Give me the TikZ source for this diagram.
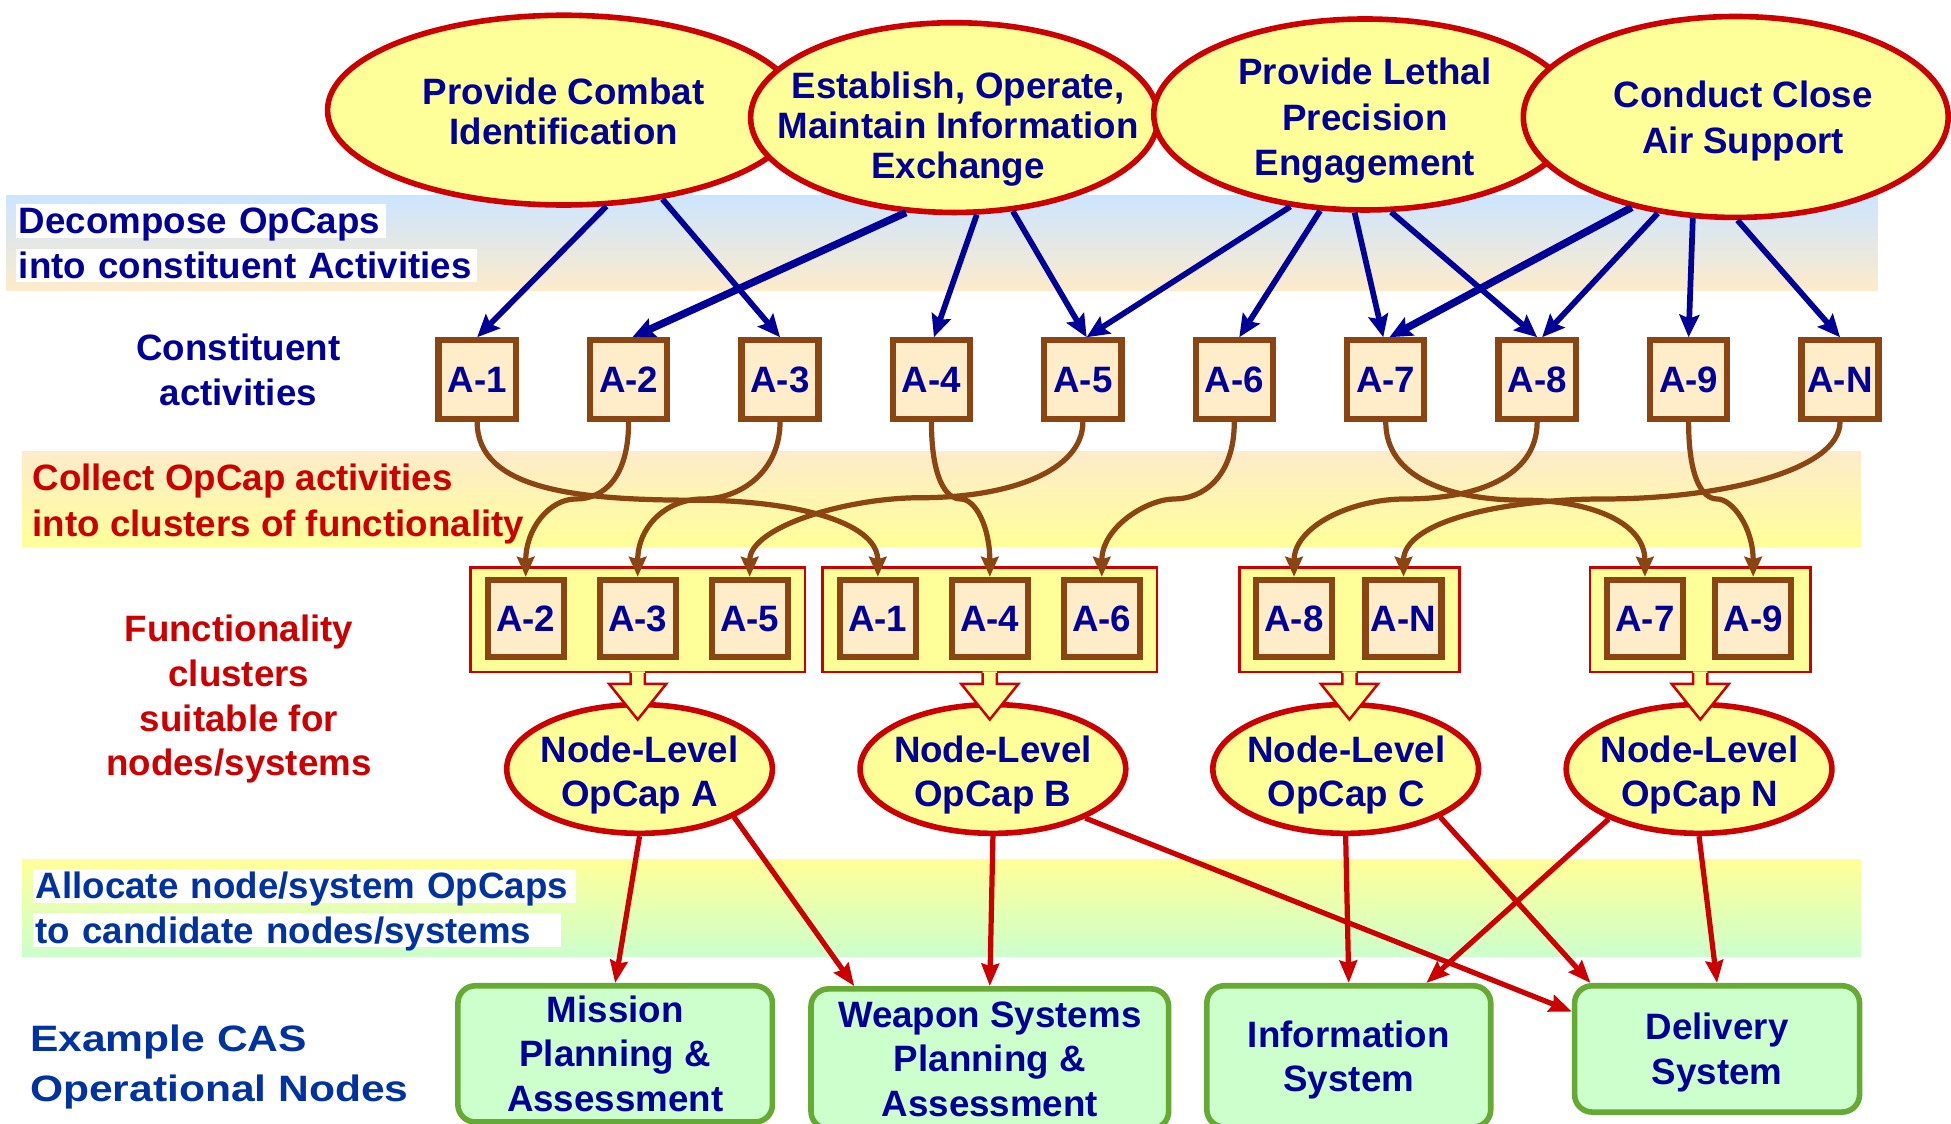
\documentclass[tikz,border=0pt]{standalone}
\usepackage{fontspec}
\setmainfont{Liberation Sans}
\newfontfamily\widesans{Liberation Sans}[FakeStretch=1.16]
\usetikzlibrary{arrows.meta,shapes.geometric}

\definecolor{txnavy}{HTML}{000099}
\definecolor{midblue}{HTML}{0033A0}
\definecolor{dred}{HTML}{CC0000}
\definecolor{ellfill}{HTML}{FFFF99}
\definecolor{actfill}{HTML}{FFEDCA}
\definecolor{actbrown}{HTML}{8B4513}
\definecolor{grnfill}{HTML}{CCFFCC}
\definecolor{grnline}{HTML}{66AA33}
\definecolor{bandblue}{HTML}{CCE5FF}
\definecolor{bandpeach}{HTML}{FDEBCB}
\definecolor{bandyellow}{HTML}{FFFF99}
\definecolor{bandgreen}{HTML}{CCFFCC}

% struts that give every text line block the same top and bottom
\newcommand\tstrut{\rule{0pt}{28pt}}
\newcommand\bstrut{\rule[-7pt]{0pt}{7pt}}

\tikzset{
  fnt/.style={font=\fontsize{29.5}{#1}\selectfont\bfseries},
  fnt/.default=36,
  txt/.style={fnt, align=center, inner sep=0pt, text=txnavy,
    execute at end node={\bstrut}},
  wlbl/.style={fnt, fill=white, inner xsep=2.5pt, inner ysep=0pt,
    text height=24pt, text depth=3pt, align=left, anchor=west},
  opcap/.style={ellipse, draw=dred, line width=4.5pt, fill=ellfill, inner sep=0pt},
  act/.style={rectangle, draw=actbrown, line width=5pt, fill=actfill,
    minimum width=62pt, minimum height=63pt, txt},
  cluster/.style={rectangle, draw=dred, line width=2pt, fill=ellfill,
    minimum height=84pt, inner sep=0pt},
  gbox/.style={rectangle, rounded corners=14pt, draw=grnline, line width=4.5pt,
    fill=grnfill, txt},
  bluearr/.style={draw=txnavy, line width=4.6pt,
    -{Stealth[length=18pt,width=16pt,inset=3pt]}},
  brownarr/.style={draw=actbrown, line width=4.2pt,
    -{Stealth[length=16pt,width=14pt,inset=2pt]}},
  redarr/.style={draw=dred, line width=4.2pt,
    -{Stealth[length=18pt,width=14pt,inset=2pt]}},
}

\begin{document}
\begin{tikzpicture}[x=1pt,y=-1pt]
\useasboundingbox (0,0) rectangle (1568,903);

% shaded process bands
\shade[top color=bandblue, bottom color=bandpeach] (5,157) rectangle (1509,233.5);
\shade[top color=bandpeach, bottom color=bandyellow] (17.5,362.5) rectangle (1495.5,439);
\shade[top color=bandyellow, bottom color=bandgreen] (17.5,691) rectangle (1495.5,768.5);

% left-hand step labels
\node[wlbl, text=txnavy, text width=292.5pt] (dec1) at (12.5,177.5) {Decompose OpCaps};
\node[wlbl, text=txnavy, text width=365.5pt] (dec2) at (12.5,213.4) {into constituent Activities};
\node[txt] (cons) at (191.5,297) {\tstrut Constituent\\activities};
\node[txt, fnt=37, align=left, anchor=west, text=dred] (coll) at (26,402.5)
  {\tstrut Collect OpCap activities\\into clusters of functionality};
\node[txt, text=dred] (func) at (192,559)
  {\tstrut Functionality\\clusters\\suitable for\\nodes/systems};
\node[wlbl, text=midblue, text width=432pt] (alo1) at (26,712) {Allocate node/system OpCaps};
\node[wlbl, text=midblue, text width=420pt] (alo2) at (26,747.5) {to candidate nodes/systems};
\node[txt, font=\widesans\fontsize{29.5}{40.5}\selectfont\bfseries, align=left,
  anchor=west, text=midblue] (cas) at (24,854.75) {\tstrut Example CAS\\Operational Nodes};

% operational capabilities
\node[opcap, minimum width=379.5pt, minimum height=152.5pt] (E1) at (453,88.5) {};
\node[txt, fnt=32.4] (E1t) at (453,89.5) {\tstrut Provide Combat\\Identification};
\node[opcap, minimum width=327.5pt, minimum height=152.5pt] (E2) at (767,94.5) {};
\node[txt, fnt=32] (E2t) at (770,101)
  {\tstrut Establish, Operate,\\Maintain Information\\Exchange};
\node[opcap, minimum width=339.5pt, minimum height=153.5pt] (E3) at (1097,92) {};
\node[txt, fnt=36.5] (E3t) at (1097,94) {\tstrut Provide Lethal\\Precision\\Engagement};
\node[opcap, minimum width=341.5pt, minimum height=161.5pt] (E4) at (1395,94) {};
\node[txt, fnt=37] (E4t) at (1401,94.5) {\tstrut Conduct Close\\Air Support};

% constituent activities
\foreach \i [count=\k from 0] in {1,2,3,4,5,6,7,8,9,N}
  \node[act] (act\i) at (383.5+121.7*\k,305) {\tstrut A-\i};

% functionality clusters
\node[cluster, minimum width=269pt] (C1) at (512.5,498) {};
\node[cluster, minimum width=269pt] (C2) at (795.5,498) {};
\node[cluster, minimum width=177pt] (C3) at (1084.5,498) {};
\node[cluster, minimum width=177pt] (C4) at (1366.5,498) {};
\tikzset{inner/.style={act, minimum width=61pt, minimum height=62pt}}
\node[inner] (c1a2) at (422.5,497) {\tstrut A-2};
\node[inner] (c1a3) at (512.5,497) {\tstrut A-3};
\node[inner] (c1a5) at (602.5,497) {\tstrut A-5};
\node[inner] (c2a1) at (705.5,497) {\tstrut A-1};
\node[inner] (c2a4) at (795.5,497) {\tstrut A-4};
\node[inner] (c2a6) at (885.5,497) {\tstrut A-6};
\node[inner] (c3a8) at (1040,497) {\tstrut A-8};
\node[inner] (c3aN) at (1128,497) {\tstrut A-N};
\node[inner] (c4a7) at (1322,497) {\tstrut A-7};
\node[inner] (c4a9) at (1409,497) {\tstrut A-9};

% node-level capabilities
\node[opcap, minimum width=213.5pt, minimum height=103.5pt] (NA) at (514,618) {};
\node[opcap, minimum width=213.5pt, minimum height=103.5pt] (NB) at (798,618) {};
\node[opcap, minimum width=213.5pt, minimum height=103.5pt] (NC) at (1081.5,618) {};
\node[opcap, minimum width=213.5pt, minimum height=103.5pt] (NN) at (1365.5,618) {};
\node[txt, fnt=35.5] (NAt) at (514,620.3) {\tstrut Node-Level\\OpCap A};
\node[txt, fnt=35.5] (NBt) at (798,620.3) {\tstrut Node-Level\\OpCap B};
\node[txt, fnt=35.5] (NCt) at (1082,620.3) {\tstrut Node-Level\\OpCap C};
\node[txt, fnt=35.5] (NNt) at (1366,620.3) {\tstrut Node-Level\\OpCap N};

% block arrows from each cluster to its node-level capability
\foreach \c in {C1,C2,C3,C4} {
  \fill[ellfill] (\c.south) ++(-5.75,-1.5) -- ++(0,10.1) -- ++(-17.25,0)
    -- ++(23,28.7) -- ++(23,-28.7) -- ++(-17.25,0) -- ++(0,-10.1) -- cycle;
  \draw[dred, line width=2pt] (\c.south) ++(-5.75,0) -- ++(0,8.6) -- ++(-17.25,0)
    -- ++(23,28.7) -- ++(23,-28.7) -- ++(-17.25,0) -- ++(0,-8.6);
}

% candidate operational nodes
\node[gbox, minimum width=252.8pt, minimum height=109.5pt] (G1) at (494.4,847)
  {\tstrut Mission\\Planning \&\\Assessment};
\node[gbox, minimum width=287.4pt, minimum height=112.5pt] (G2) at (795.5,851)
  {\tstrut Weapon Systems\\Planning \&\\Assessment};
\node[gbox, minimum width=228.2pt, minimum height=113.5pt] (G3) at (1084,849)
  {\tstrut Information\\System};
\node[gbox, minimum width=229pt, minimum height=101.5pt] (G4) at (1380,843)
  {\tstrut Delivery\\System};

% decomposition into activities
\draw[bluearr] (E1.-66.3) -- (act1.north);
\draw[bluearr] (E1.-42.5) -- (act3.north);
\draw[bluearr, line width=6pt] (E2.-117.9) -- ([xshift=3pt]act2.north);
\draw[bluearr] (E2.-77.8) -- ([xshift=2pt]act4.north);
\draw[bluearr] (E2.-58.2) -- ([xshift=3pt]act5.north);
\draw[bluearr] (E3.-129.1) -- ([xshift=3pt]act5.north);
\draw[bluearr] (E3.-115.4) -- ([xshift=4pt]act6.north);
\draw[bluearr] (E3.-96.5) -- ([xshift=-2pt]act7.north);
\draw[bluearr] (E3.-75.6) -- (act8.north);
\draw[bluearr, line width=6pt] (E4.-139.1) -- ([xshift=3pt]act7.north);
\draw[bluearr] (E4.-129.2) -- ([xshift=4pt]act8.north);
\draw[bluearr] (E4.-113.3) -- (act9.north);
\draw[bluearr] (E4.-89.3) -- (actN.north);

% collection into clusters
\draw[brownarr] (act1.south) .. controls +(0,55) and +(-95,0) .. (560,402)
  .. controls +(75,0) and +(0,-45) .. (c2a1.north);
\draw[brownarr] (act2.south) .. controls +(0,45) and +(22,0) .. (463,401)
  .. controls +(-22,0) and +(0,-38) .. (c1a2.north);
\draw[brownarr] (act3.south) .. controls +(0,40) and +(30,0) .. (565,401)
  .. controls +(-30,0) and +(0,-40) .. (c1a3.north);
\draw[brownarr] (act4.south) .. controls +(0,45) and +(-12,0) .. (772,401)
  .. controls +(12,0) and +(0,-40) .. (c2a4.north);
\draw[brownarr] (act5.south) .. controls +(0,40) and +(70,0) .. (740,400)
  .. controls +(-60,0) and +(0,-40) .. (c1a5.north);
\draw[brownarr] (act6.south) .. controls +(0,45) and +(22,0) .. (944,401)
  .. controls +(-22,0) and +(0,-40) .. (c2a6.north);
\draw[brownarr] (act7.south) .. controls +(0,45) and +(-60,0) .. (1225,402)
  .. controls +(50,0) and +(0,-45) .. (c4a7.north);
\draw[brownarr] (act8.south) .. controls +(0,45) and +(55,0) .. (1130,401)
  .. controls +(-45,0) and +(0,-40) .. (c3a8.north);
\draw[brownarr] (act9.south) .. controls +(0,45) and +(-12,0) .. (1380,401)
  .. controls +(12,0) and +(0,-40) .. (c4a9.north);
\draw[brownarr] (actN.south) .. controls +(0,40) and +(90,0) .. (1290,401)
  .. controls +(-80,0) and +(0,-45) .. (c3aN.north);

% allocation to nodes
\draw[redarr] (NA.south) -- (G1.north);
\draw[redarr] (NA.-27.2) -- ([xshift=37pt]G2.north west);
\draw[redarr] (NB.south) -- (G2.north);
\draw[redarr] (NB.-28) -- ([yshift=30pt]G4.west);
\draw[redarr] (NC.south) -- (G3.north);
\draw[redarr] (NC.-27.3) -- ([xshift=15pt]G4.north west);
\draw[redarr] (NN.-151.2) -- ([xshift=-54pt]G3.north east);
\draw[redarr] (NN.south) -- (G4.north);
\end{tikzpicture}
\end{document}
